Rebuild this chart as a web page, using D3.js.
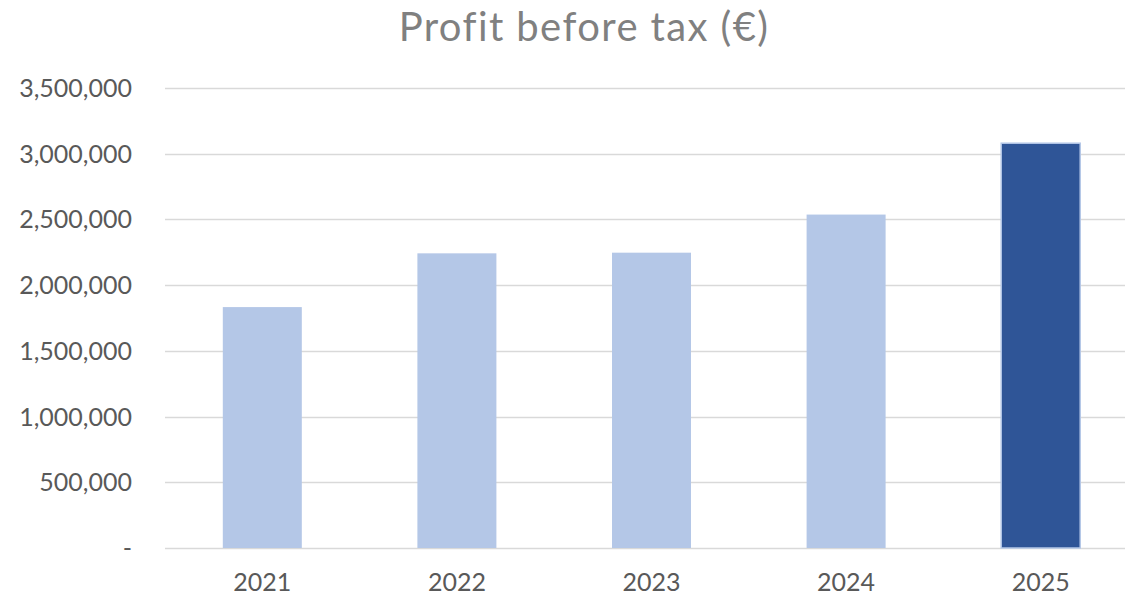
<!DOCTYPE html>
<html>
<head>
<meta charset="utf-8">
<script src="https://cdn.jsdelivr.net/npm/d3@7"></script>
<style>
  html, body { margin: 0; padding: 0; background: #fff; }
  svg { display: block; font-family: Lato, "Open Sans", sans-serif; }
</style>
</head>
<body>
<svg id="chart" width="1125" height="597"></svg>
<script>
const YEARS = ['2021', '2022', '2023', '2024', '2025'];
const PROFIT = [1833000, 2242000, 2247000, 2537000, 3080000];
const Y_TICKS = [0, 500000, 1000000, 1500000, 2000000, 2500000, 3000000, 3500000];
const TITLE = 'Profit before tax (€)';

const LIGHT = '#b4c7e7';
const DARK = '#2f5597';
const GRID = '#d9d9d9';
const TEXT = '#595959';

const width = 1125;
const plot = { left: 165, right: 1138, top: 88, bottom: 548 };

const svg = d3.select('#chart');

const x = d3.scaleBand()
  .domain(YEARS)
  .range([plot.left, plot.right])
  .paddingInner(0.594)
  .paddingOuter(0.297);

const y = d3.scaleLinear()
  .domain([0, 3500000])
  .range([plot.bottom, plot.top]);

svg.append('text')
  .attr('x', 584)
  .attr('y', 40.5)
  .attr('text-anchor', 'middle')
  .attr('fill', '#808080')
  .attr('font-size', 40)
  .attr('letter-spacing', 1.4)
  .text(TITLE);

// gridlines
svg.append('g')
  .selectAll('line')
  .data(Y_TICKS)
  .join('line')
  .attr('x1', plot.left)
  .attr('x2', width)
  .attr('y1', (d) => Math.round(y(d)) + 0.5)
  .attr('y2', (d) => Math.round(y(d)) + 0.5)
  .attr('stroke', GRID)
  .attr('stroke-width', 1.3);

// y tick labels
const fmt = d3.format(',');
svg.append('g')
  .selectAll('text')
  .data(Y_TICKS)
  .join('text')
  .attr('x', 132)
  .attr('y', (d) => y(d) + 9)
  .attr('text-anchor', 'end')
  .attr('fill', TEXT)
  .attr('font-size', 25)
  .text((d) => (d === 0 ? '-' : fmt(d)));

// bars, last year highlighted
svg.append('g')
  .selectAll('rect')
  .data(PROFIT)
  .join('rect')
  .attr('x', (d, i) => x(YEARS[i]))
  .attr('y', (d) => y(d))
  .attr('width', x.bandwidth())
  .attr('height', (d) => y(0) - y(d))
  .attr('fill', (d, i) => (i === YEARS.length - 1 ? DARK : LIGHT))
  .attr('stroke', (d, i) => (i === YEARS.length - 1 ? LIGHT : 'none'))
  .attr('stroke-width', 1.5);

// x labels
svg.append('g')
  .selectAll('text')
  .data(YEARS)
  .join('text')
  .attr('x', (d) => x(d) + x.bandwidth() / 2)
  .attr('y', 591)
  .attr('text-anchor', 'middle')
  .attr('fill', TEXT)
  .attr('font-size', 25)
  .text((d) => d);
</script>
</body>
</html>
